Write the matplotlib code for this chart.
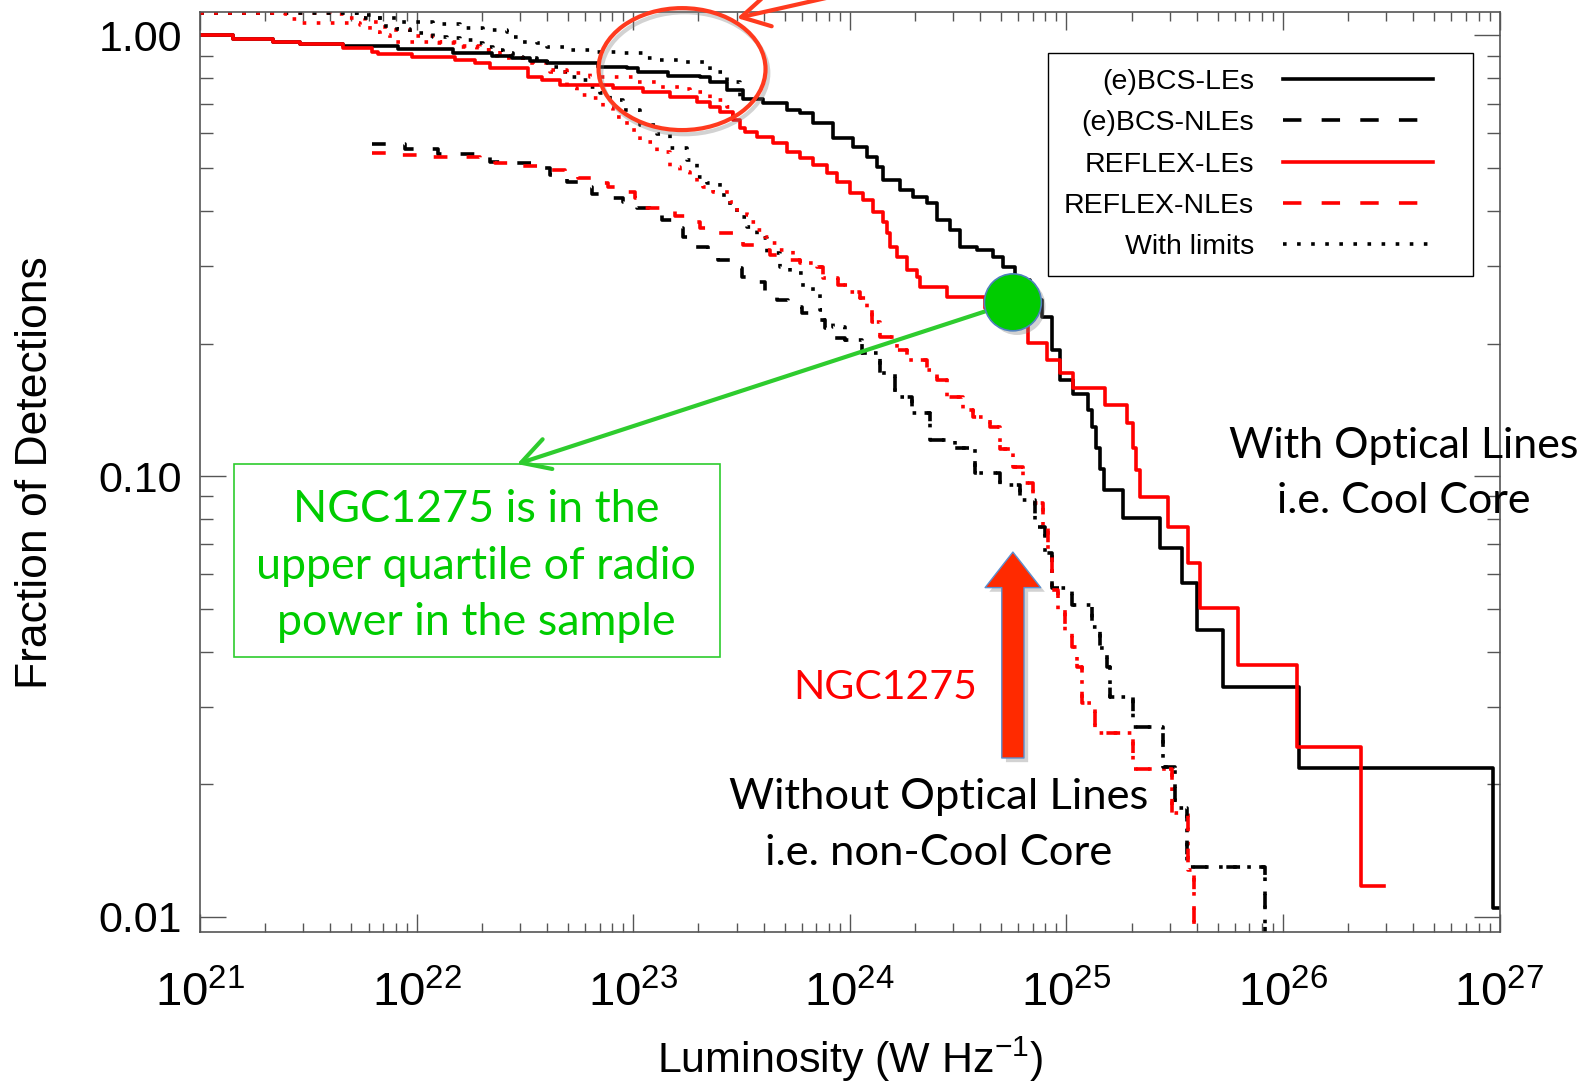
import numpy as np
import matplotlib.pyplot as plt
import matplotlib.patheffects as pe
from matplotlib.lines import Line2D
from matplotlib.patches import Ellipse, Rectangle
from matplotlib.legend_handler import HandlerLine2D
from matplotlib.ticker import LogLocator, NullFormatter

plt.rcParams['font.family'] = ['Liberation Sans', 'DejaVu Sans']
plt.rcParams['mathtext.fontset'] = 'custom'
plt.rcParams['mathtext.rm'] = 'Liberation Sans'
plt.rcParams['mathtext.it'] = 'Liberation Sans:italic'
plt.rcParams['mathtext.bf'] = 'Liberation Sans:bold'

# ---- cumulative fractions, log10(L / W Hz^-1) ----
# (e)BCS line emitters
bcs_le_logL = [21.000, 21.152, 21.337, 21.462, 21.660, 21.914, 22.168, 22.348, 22.440, 22.524,
               22.602, 22.838, 22.971, 23.022, 23.161, 23.308, 23.355, 23.433, 23.507, 23.599,
               23.710, 23.770, 23.830, 23.922, 24.015, 24.079, 24.126, 24.153, 24.232, 24.292,
               24.356, 24.403, 24.463, 24.509, 24.587, 24.661, 24.707, 24.763, 24.832, 24.887,
               24.934, 24.970, 25.031, 25.100, 25.118, 25.137, 25.155, 25.174, 25.261, 25.432,
               25.534, 25.603, 25.723, 26.074, 26.970, 27.000]
bcs_le_frac = [1.000, 0.980, 0.968, 0.955, 0.947, 0.930, 0.914, 0.899, 0.888, 0.877,
               0.865, 0.850, 0.843, 0.828, 0.809, 0.805, 0.784, 0.752, 0.718, 0.703,
               0.678, 0.667, 0.633, 0.585, 0.558, 0.530, 0.503, 0.470, 0.446, 0.430,
               0.417, 0.381, 0.362, 0.331, 0.326, 0.314, 0.298, 0.279, 0.251, 0.230,
               0.193, 0.165, 0.154, 0.141, 0.129, 0.116, 0.104, 0.0930, 0.0804, 0.0687,
               0.0572, 0.0448, 0.0332, 0.0218, 0.0105, 0.0105]

# REFLEX line emitters
reflex_le_logL = [21.000, 21.152, 21.337, 21.462, 21.660, 21.794, 21.822, 21.979, 22.177, 22.270,
                  22.339, 22.514, 22.579, 22.662, 22.907, 23.045, 23.170, 23.295, 23.355, 23.401,
                  23.461, 23.493, 23.516, 23.572, 23.645, 23.710, 23.770, 23.830, 23.895, 23.941,
                  24.001, 24.061, 24.107, 24.153, 24.172, 24.186, 24.218, 24.264, 24.310, 24.324,
                  24.449, 24.624, 24.693, 24.763, 24.823, 24.910, 24.970, 25.031, 25.178, 25.280,
                  25.308, 25.321, 25.340, 25.469, 25.561, 25.617, 25.792, 26.065, 26.360, 26.466]
reflex_le_frac = [1.000, 0.980, 0.968, 0.955, 0.938, 0.919, 0.908, 0.895, 0.880, 0.865,
                  0.843, 0.806, 0.792, 0.772, 0.759, 0.744, 0.725, 0.707, 0.688, 0.671,
                  0.643, 0.617, 0.604, 0.589, 0.570, 0.544, 0.527, 0.508, 0.488, 0.465,
                  0.439, 0.423, 0.398, 0.377, 0.356, 0.331, 0.314, 0.294, 0.283, 0.269,
                  0.255, 0.241, 0.232, 0.220, 0.2005, 0.1835, 0.1714, 0.1585, 0.1450, 0.1320,
                  0.116, 0.1033, 0.0897, 0.0767, 0.0635, 0.0502, 0.0373, 0.0243, 0.01175, 0.01175]

# (e)BCS non line emitters (detections only)
bcs_nle_logL = [21.794, 21.946, 22.099, 22.270, 22.339, 22.417, 22.560, 22.616, 22.694, 22.754,
                22.810, 22.879, 22.953, 23.018, 23.078, 23.133, 23.193, 23.230, 23.285, 23.345,
                23.392, 23.447, 23.502, 23.562, 23.608, 23.664, 23.715, 23.779, 23.839, 23.886,
                23.932]
bcs_nle_frac = [0.567, 0.553, 0.538, 0.530, 0.516, 0.513, 0.500, 0.483, 0.465, 0.453,
                0.437, 0.428, 0.419, 0.406, 0.391, 0.381, 0.366, 0.349, 0.331, 0.323,
                0.309, 0.297, 0.283, 0.276, 0.262, 0.251, 0.242, 0.235, 0.226, 0.217,
                0.206]
# high-luminosity end, common to detections-only and with-limits curves
bcs_nle_tail_logL = [23.978, 24.056, 24.139, 24.209, 24.287, 24.370, 24.486, 24.578, 24.693, 24.786,
                     24.855, 24.901, 24.934, 25.026, 25.118, 25.155, 25.187, 25.201, 25.308, 25.446,
                     25.501, 25.557, 25.917]
bcs_nle_tail_frac = [0.204, 0.190, 0.1714, 0.1512, 0.139, 0.1208, 0.116, 0.1017, 0.0955, 0.0883,
                     0.0767, 0.0669, 0.0557, 0.0510, 0.0455, 0.0408, 0.0369, 0.0316, 0.0270, 0.0219,
                     0.0177, 0.0130, 0.0]

# REFLEX non line emitters (detections only)
reflex_nle_logL = [21.794, 21.877, 22.039, 22.293, 22.362, 22.440, 22.593, 22.685, 22.745, 22.810,
                   22.884, 22.948, 23.008, 23.054, 23.133, 23.193, 23.253, 23.308, 23.387, 23.470,
                   23.507, 23.562, 23.632, 23.710]
reflex_nle_frac = [0.541, 0.536, 0.530, 0.525, 0.5135, 0.506, 0.495, 0.488, 0.475, 0.463,
                   0.453, 0.441, 0.428, 0.406, 0.402, 0.390, 0.377, 0.366, 0.356, 0.349,
                   0.335, 0.326, 0.318, 0.309]
reflex_nle_tail_logL = [23.770, 23.849, 23.876, 23.946, 24.001, 24.047, 24.079, 24.102, 24.139, 24.218,
                        24.264, 24.356, 24.403, 24.449, 24.523, 24.569, 24.647, 24.693, 24.754, 24.800,
                        24.846, 24.892, 24.915, 24.934, 24.961, 24.994, 25.026, 25.049, 25.072, 25.132,
                        25.308, 25.488, 25.561, 25.589]
reflex_nle_tail_frac = [0.305, 0.298, 0.282, 0.2716, 0.262, 0.2537, 0.238, 0.224, 0.207, 0.193,
                        0.1835, 0.174, 0.165, 0.1512, 0.141, 0.1362, 0.129, 0.115, 0.1049, 0.0965,
                        0.0870, 0.0767, 0.0669, 0.0552, 0.0497, 0.0443, 0.0410, 0.0369, 0.0306, 0.0261,
                        0.0216, 0.0172, 0.0128, 0.0]

# with upper limits included
bcs_le_lim_logL = [21.000, 21.753, 21.817, 21.923, 22.076, 22.200, 22.307, 22.417, 22.445, 22.491,
                   22.556, 22.602, 22.694, 22.833, 22.953, 23.045, 23.110, 23.216, 23.295, 23.355,
                   23.433, 23.493, 23.507]
bcs_le_lim_frac = [1.127, 1.113, 1.094, 1.075, 1.062, 1.038, 1.029, 1.020, 0.994, 0.968,
                   0.960, 0.943, 0.927, 0.919, 0.911, 0.888, 0.880, 0.872, 0.871, 0.826,
                   0.784, 0.725, 0.718]
reflex_le_lim_logL = [21.000, 21.600, 21.669, 21.762, 21.854, 21.970, 22.108, 22.200, 22.293, 22.385,
                      22.491, 22.616, 22.694, 22.801, 23.018, 23.110, 23.230, 23.262, 23.355, 23.433,
                      23.461]
reflex_le_lim_frac = [1.127, 1.119, 1.096, 1.073, 1.029, 0.997, 0.966, 0.947, 0.927, 0.899,
                      0.871, 0.835, 0.822, 0.805, 0.784, 0.764, 0.756, 0.744, 0.714, 0.688,
                      0.643]
bcs_nle_lim_logL = [21.000, 21.600, 21.739, 21.845, 21.910, 21.970, 22.076, 22.140, 22.200, 22.260,
                    22.307, 22.353, 22.399, 22.445, 22.491, 22.556, 22.616, 22.662, 22.708, 22.768,
                    22.801, 22.847, 22.893, 22.953, 23.031, 23.110, 23.170, 23.248, 23.295, 23.341,
                    23.401, 23.447, 23.479, 23.525, 23.572, 23.618, 23.678, 23.724, 23.784, 23.830,
                    23.862, 23.876, 23.922]
bcs_nle_lim_frac = [1.127, 1.125, 1.096, 1.051, 1.035, 1.013, 0.992, 0.987, 0.977, 0.961,
                    0.942, 0.927, 0.913, 0.894, 0.890, 0.871, 0.848, 0.826, 0.805, 0.792,
                    0.764, 0.740, 0.714, 0.678, 0.627, 0.598, 0.556, 0.522, 0.477, 0.463,
                    0.435, 0.406, 0.388, 0.368, 0.347, 0.321, 0.298, 0.289, 0.269, 0.260,
                    0.238, 0.226, 0.218]
reflex_nle_lim_logL = [21.000, 21.392, 21.416, 21.462, 21.739, 21.785, 21.831, 21.877, 22.062, 22.187,
                       22.279, 22.371, 22.491, 22.616, 22.694, 22.741, 22.801, 22.861, 22.907, 22.971,
                       23.031, 23.110, 23.170, 23.216, 23.262, 23.295, 23.322, 23.368, 23.447, 23.479,
                       23.525, 23.539, 23.572, 23.608, 23.632, 23.664, 23.738]
reflex_nle_lim_frac = [1.127, 1.119, 1.090, 1.068, 1.056, 1.018, 1.001, 0.966, 0.961, 0.942,
                       0.927, 0.890, 0.866, 0.826, 0.760, 0.733, 0.721, 0.685, 0.653, 0.610,
                       0.573, 0.544, 0.503, 0.490, 0.483, 0.465, 0.453, 0.441, 0.419, 0.402,
                       0.391, 0.377, 0.362, 0.349, 0.338, 0.326, 0.309]

# NGC1275 position on the (e)BCS-LE curve
ngc1275_logL = 24.753
ngc1275_frac = 0.248

legend_labels = ['(e)BCS-LEs', '(e)BCS-NLEs', 'REFLEX-LEs', 'REFLEX-NLEs', 'With limits']
x_tick_exps = [21, 22, 23, 24, 25, 26, 27]
y_ticks = [0.01, 0.1, 1.0]
y_tick_labels = ['0.01', '0.10', '1.00']

LW = 2.6
DASH = (0, (3.8, 5.3))
DOT = (0, (1, 2.9))
RED = '#ff0000'
ANN_RED = '#ff3a1e'
GREEN = '#2ecc2e'
CALIBRI = ['Lato', 'DejaVu Sans']

fig = plt.figure(figsize=(15.89, 10.85), dpi=100)
ax = fig.add_axes([0.1259, 0.1410, 0.8178, 0.8477])
ax.set_xscale('log')
ax.set_yscale('log')


def steps(logL, frac, **kw):
    return ax.plot(10 ** np.asarray(logL), frac, drawstyle='steps-post', **kw)


# with-limits curves (dotted) underneath
steps(bcs_le_lim_logL, bcs_le_lim_frac, color='k', lw=LW, ls=DOT)
steps(reflex_le_lim_logL, reflex_le_lim_frac, color=RED, lw=LW, ls=DOT)
steps(bcs_nle_lim_logL + bcs_nle_tail_logL, bcs_nle_lim_frac + bcs_nle_tail_frac,
      color='k', lw=LW, ls=DOT)
steps(reflex_nle_lim_logL + reflex_nle_tail_logL, reflex_nle_lim_frac + reflex_nle_tail_frac,
      color=RED, lw=LW, ls=DOT)

# non line emitters (dashed)
steps(bcs_nle_logL + bcs_nle_tail_logL, bcs_nle_frac + bcs_nle_tail_frac, color='k', lw=LW, ls=DASH)
steps(reflex_nle_logL + reflex_nle_tail_logL, reflex_nle_frac + reflex_nle_tail_frac,
      color=RED, lw=LW, ls=DASH)

# line emitters (solid)
steps(bcs_le_logL, bcs_le_frac, color='k', lw=LW)
steps(reflex_le_logL, reflex_le_frac, color=RED, lw=LW)

ax.set_xlim(1e21, 1e27)
ax.set_ylim(0.00924, 1.129)

# IDL-like box with inward ticks on all sides
ax.set_xticks([10.0 ** e for e in x_tick_exps])
ax.set_xticklabels([r'$10^{%d}$' % e for e in x_tick_exps])
ax.xaxis.set_minor_locator(LogLocator(base=10, subs=np.arange(2, 10), numticks=30))
ax.xaxis.set_minor_formatter(NullFormatter())
ax.set_yticks(y_ticks)
ax.set_yticklabels(y_tick_labels)
ax.yaxis.set_minor_locator(LogLocator(base=10, subs=np.arange(2, 10), numticks=30))
ax.yaxis.set_minor_formatter(NullFormatter())
ax.tick_params(which='both', direction='in', top=True, right=True, color='#555555', width=1.0)
ax.tick_params(axis='x', which='major', length=13, pad=28, labelsize=34)
ax.tick_params(axis='x', which='minor', length=6.5)
ax.tick_params(axis='y', which='major', length=18.5, pad=13, labelsize=31)
ax.tick_params(axis='y', which='minor', length=9.3)
for sp in ax.spines.values():
    sp.set_color('#555555')
    sp.set_linewidth(1.2)

ax.set_xlabel(r'Luminosity (W Hz$^{-1}$)', fontsize=31)
ax.set_ylabel('Fraction of Detections', fontsize=32)
ax.xaxis.set_label_coords(0.5, -0.138)
ax.xaxis.label.set_va('center')
ax.yaxis.set_label_coords(-0.1266, 0.5)
ax.yaxis.label.set_va('center')


class ShortHandle(HandlerLine2D):
    """Legend line that leaves some blank room on its right."""

    def create_artists(self, legend, orig_handle, xdescent, ydescent, width, height,
                       fontsize, trans):
        return super().create_artists(legend, orig_handle, xdescent, ydescent, width * 0.86,
                                      height, fontsize, trans)


handles = [Line2D([], [], color='k', lw=LW),
           Line2D([], [], color='k', lw=LW, ls=(0, (5.1, 5.6))),
           Line2D([], [], color=RED, lw=LW),
           Line2D([], [], color=RED, lw=LW, ls=(0, (5.1, 5.6))),
           Line2D([], [], color='k', lw=LW, ls=DOT)]
leg = ax.legend(handles, legend_labels, loc='upper right', bbox_to_anchor=(0.9796, 0.9556),
                borderaxespad=0, markerfirst=False, fontsize=20.5, handlelength=6.14,
                handletextpad=1.0, labelspacing=0.54, borderpad=0.55, fancybox=False,
                framealpha=1, edgecolor='black', handler_map={Line2D: ShortHandle()})
leg.get_frame().set_linewidth(1.0)

# ---- slide annotations ----
patch_shadow = [pe.SimplePatchShadow(offset=(3, -3), shadow_rgbFace='#808080', alpha=0.35),
                pe.Normal()]
line_shadow = [pe.SimpleLineShadow(offset=(2, -3), shadow_color='#808080', alpha=0.35),
               pe.Normal()]

ax.add_patch(Ellipse((0.3709, 0.9382), 0.1285, 0.1326, transform=ax.transAxes, fill=False,
                     ec=ANN_RED, lw=3.0, clip_on=False, zorder=6, path_effects=line_shadow))
ax.annotate('', xy=(0.4132, 0.9937), xycoords='axes fraction',
            xytext=(0.5664, 1.0172), textcoords='figure fraction', annotation_clip=False,
            arrowprops=dict(arrowstyle='->,head_length=0.8,head_width=0.45', mutation_scale=25,
                            color=ANN_RED, lw=3.0, shrinkA=0, shrinkB=0), zorder=6)

# pointer from NGC1275 to the note
ax.annotate('', xy=(0.2439, 0.5088), xycoords='axes fraction',
            xytext=(10 ** ngc1275_logL, ngc1275_frac), textcoords='data',
            arrowprops=dict(arrowstyle='->,head_length=0.8,head_width=0.45', mutation_scale=25,
                            color=GREEN, lw=3.0, shrinkA=0, shrinkB=0), zorder=5)
ax.plot(10 ** ngc1275_logL, ngc1275_frac, 'o', ms=41, mfc='#00cc00', mec='#4f81bd', mew=1.2,
        zorder=7, clip_on=False, path_effects=patch_shadow)

# block arrow marking NGC1275's luminosity
ax.annotate('', xy=(10 ** ngc1275_logL, 0.4131), xycoords=('data', 'axes fraction'),
            xytext=(10 ** ngc1275_logL, 0.1892), textcoords=('data', 'axes fraction'),
            arrowprops=dict(arrowstyle='simple,head_length=0.64,head_width=1.0,tail_width=0.4',
                            mutation_scale=40, fc='#ff2a00', ec='#5b8fd0', lw=1.0,
                            shrinkA=0, shrinkB=0, path_effects=patch_shadow), zorder=6)

fig.text(0.5568, 0.3668, 'NGC1275', color=RED, fontsize=29.5, family=CALIBRI,
         ha='center', va='center')
fig.text(0.5906, 0.2395, 'Without Optical Lines\ni.e. non-Cool Core', fontsize=31.3,
         family=CALIBRI, ha='center', va='center', linespacing=1.56)
fig.text(0.8833, 0.5635, 'With Optical Lines\ni.e. Cool Core', fontsize=31,
         family=CALIBRI, ha='center', va='center', linespacing=1.53)

fig.patches.append(Rectangle((0.1473, 0.3945), 0.3059, 0.1779, transform=fig.transFigure,
                             fill=False, ec=GREEN, lw=1.2))
fig.text(0.2998, 0.4779, 'NGC1275 is in the\nupper quartile of radio\npower in the sample',
         color='#00cc00', fontsize=32.3, family=CALIBRI, ha='center', va='center',
         linespacing=1.47)

fig.savefig('out.png', dpi=100)
